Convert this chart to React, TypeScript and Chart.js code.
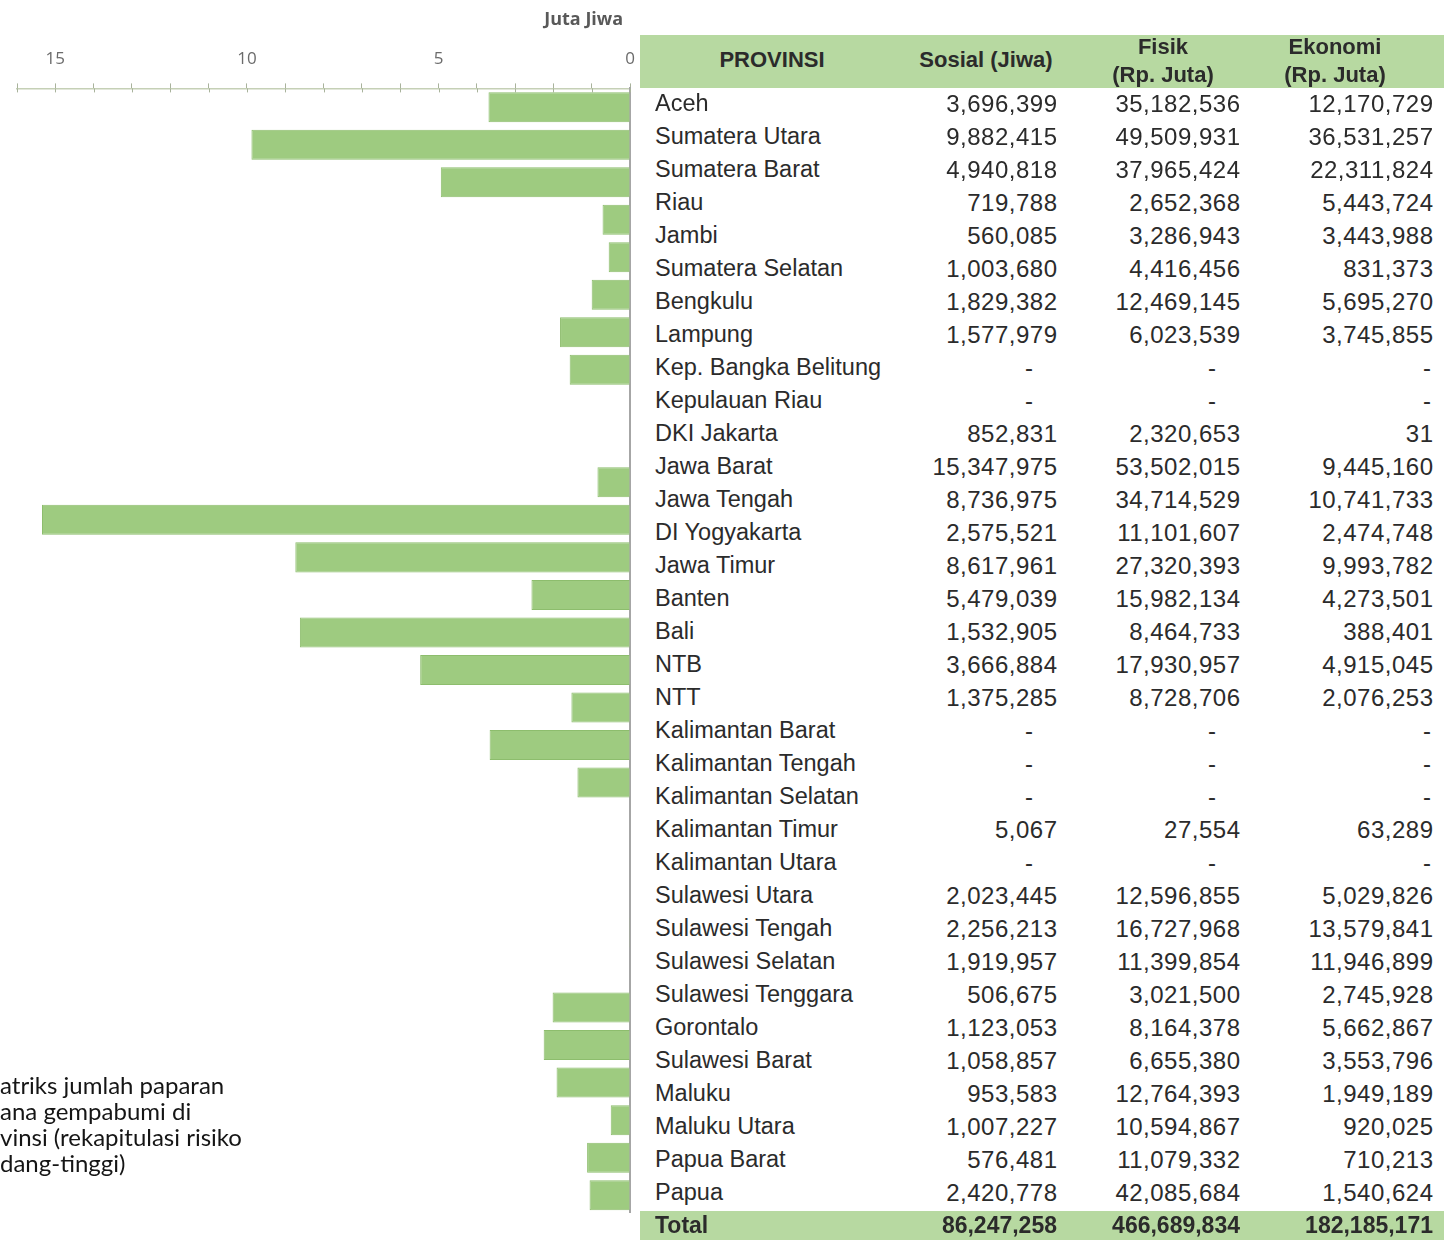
import React, { useEffect, useRef } from "react";
import { Chart, registerables } from "chart.js";

Chart.register(...registerables);

const provinces = [
  "Aceh", "Sumatera Utara", "Sumatera Barat", "Riau", "Jambi", "Sumatera Selatan",
  "Bengkulu", "Lampung", "Kep. Bangka Belitung", "Kepulauan Riau", "DKI Jakarta",
  "Jawa Barat", "Jawa Tengah", "DI Yogyakarta", "Jawa Timur", "Banten", "Bali",
  "NTB", "NTT", "Kalimantan Barat", "Kalimantan Tengah", "Kalimantan Selatan",
  "Kalimantan Timur", "Kalimantan Utara", "Sulawesi Utara", "Sulawesi Tengah",
  "Sulawesi Selatan", "Sulawesi Tenggara", "Gorontalo", "Sulawesi Barat", "Maluku",
  "Maluku Utara", "Papua Barat", "Papua",
];

const sosial: (number | null)[] = [
  3696399, 9882415, 4940818, 719788, 560085, 1003680, 1829382, 1577979, null, null,
  852831, 15347975, 8736975, 2575521, 8617961, 5479039, 1532905, 3666884, 1375285,
  null, null, null, 5067, null, 2023445, 2256213, 1919957, 506675, 1123053, 1058857,
  953583, 1007227, 576481, 2420778,
];

const fisik: (number | null)[] = [
  35182536, 49509931, 37965424, 2652368, 3286943, 4416456, 12469145, 6023539, null, null,
  2320653, 53502015, 34714529, 11101607, 27320393, 15982134, 8464733, 17930957, 8728706,
  null, null, null, 27554, null, 12596855, 16727968, 11399854, 3021500, 8164378, 6655380,
  12764393, 10594867, 11079332, 42085684,
];

const ekonomi: (number | null)[] = [
  12170729, 36531257, 22311824, 5443724, 3443988, 831373, 5695270, 3745855, null, null,
  31, 9445160, 10741733, 2474748, 9993782, 4273501, 388401, 4915045, 2076253,
  null, null, null, 63289, null, 5029826, 13579841, 11946899, 2745928, 5662867, 3553796,
  1949189, 920025, 710213, 1540624,
];

const totals = [86247258, 466689834, 182185171];

const headers = ["PROVINSI", "Sosial (Jiwa)", "Fisik\n(Rp. Juta)", "Ekonomi\n(Rp. Juta)"];
const axisTitle = "Juta Jiwa";
const captionLines = [
  "atriks jumlah paparan",
  "ana gempabumi di",
  "vinsi (rekapitulasi risiko",
  "dang-tinggi)",
];

const fmt = (v: number) => v.toLocaleString("en-US");

const ROW_FONT = "'Liberation Sans', Arial, sans-serif";
const NARROW_FONT = "'Liberation Sans Narrow', 'Liberation Sans', Arial, sans-serif";
const TEXT = "#2b2b2b";
const GREEN = "#b7d9a1";

const axisExtras = {
  id: "axisExtras",
  afterDraw(chart: any) {
    const x = chart.scales.x;
    const { ctx, chartArea } = chart;
    ctx.save();
    ctx.strokeStyle = "#a9b39c";
    ctx.lineWidth = 1;
    for (let v = 0; v <= 16; v++) {
      const px = Math.round(x.getPixelForValue(v)) + 0.5;
      ctx.beginPath();
      ctx.moveTo(px, chartArea.top);
      ctx.lineTo(px, chartArea.top + 4);
      ctx.stroke();
    }
    ctx.fillStyle = "#595959";
    ctx.font = "bold 18px 'Open Sans', sans-serif";
    ctx.textAlign = "right";
    ctx.textBaseline = "middle";
    ctx.fillText(axisTitle, chartArea.right - 7, 20);
    ctx.restore();
  },
};

function BarChart() {
  const ref = useRef<HTMLCanvasElement | null>(null);
  useEffect(() => {
    if (!ref.current) return;
    const chart = new Chart(ref.current, {
      type: "bar",
      data: {
        labels: provinces,
        datasets: [
          {
            data: sosial.map((v) => (v == null ? null : v / 1e6)),
            backgroundColor: "#9ecb80",
            borderColor: "#8dbd6d",
            borderWidth: 1,
            barPercentage: 0.8,
            categoryPercentage: 1,
          },
        ],
      },
      options: {
        indexAxis: "y",
        animation: false,
        responsive: false,
        maintainAspectRatio: false,
        layout: { padding: { left: 17, right: 0, top: 35, bottom: 0 } },
        plugins: { legend: { display: false }, tooltip: { enabled: false } },
        scales: {
          x: {
            type: "linear",
            position: "top",
            reverse: true,
            min: 0,
            max: 16,
            ticks: {
              stepSize: 1,
              autoSkip: false,
              maxRotation: 0,
              padding: 14,
              color: "#6b6b6b",
              font: { family: "'Open Sans', sans-serif", size: 17 },
              callback: (v: any) => (Number(v) % 5 === 0 ? String(v) : ""),
            },
            grid: { drawOnChartArea: false, drawTicks: true, tickLength: 5, color: "#a9b39c" },
            border: { color: "#c5d0b6", width: 1.5 },
          },
          y: {
            type: "category",
            position: "right",
            ticks: { display: false },
            grid: { drawOnChartArea: false, drawTicks: false },
            border: { color: "#a6a6a6", width: 2 },
          },
        },
      },
      plugins: [axisExtras],
    } as any);
    return () => chart.destroy();
  }, []);
  return <canvas ref={ref} width={649} height={1364} style={{ width: 649, height: 1364, display: "block" }} />;
}

const colRight = [1057, 1240, 1433];
const dashPad = [24, 24, 2];
const headerCenters = [772, 986, 1163, 1335];

export default function App() {
  const cols = [sosial, fisik, ekonomi];
  return (
    <div style={{ position: "fixed", left: 0, top: 0, width: 1444, height: 1240, overflow: "hidden", background: "#fff" }}>
      <div style={{ position: "absolute", left: 0, top: 0, width: 649, height: 1213, overflow: "hidden" }}>
        <BarChart />
      </div>
      <div style={{ position: "absolute", left: 640, top: 35, width: 804, height: 53, background: GREEN }} />
      {headers.map((h, i) => {
        const lines = h.split("\n");
        return (
          <div
            key={h}
            style={{
              position: "absolute",
              left: headerCenters[i] - 100,
              width: 200,
              top: lines.length === 1 ? 46 : 33,
              textAlign: "center",
              fontFamily: NARROW_FONT,
              fontWeight: "bold",
              fontSize: 22,
              lineHeight: "28px",
              color: TEXT,
              whiteSpace: "pre",
            }}
          >
            {h}
          </div>
        );
      })}
      {provinces.map((p, i) => {
        const top = 87 + 33 * i;
        return (
          <React.Fragment key={p}>
            <div style={{ position: "absolute", left: 655, top, height: 33, lineHeight: "33px", fontFamily: ROW_FONT, fontSize: 23.5, color: TEXT, whiteSpace: "nowrap" }}>
              {p}
            </div>
            {cols.map((c, j) => {
              const v = c[i];
              return (
                <div
                  key={j}
                  style={{
                    position: "absolute",
                    right: 1444 - colRight[j],
                    top,
                    height: 33,
                    lineHeight: "33px",
                    fontFamily: ROW_FONT,
                    fontSize: 24,
                    letterSpacing: 0.5,
                    marginRight: -0.5,
                    color: TEXT,
                    paddingRight: v == null ? dashPad[j] : 0,
                    whiteSpace: "nowrap",
                  }}
                >
                  {v == null ? "-" : fmt(v)}
                </div>
              );
            })}
          </React.Fragment>
        );
      })}
      <div style={{ position: "absolute", left: 640, top: 1211, width: 804, height: 29, background: GREEN }} />
      <div style={{ position: "absolute", left: 655, top: 1209, height: 33, lineHeight: "33px", fontFamily: NARROW_FONT, fontWeight: "bold", fontSize: 23, color: TEXT }}>
        Total
      </div>
      {totals.map((t, j) => (
        <div
          key={j}
          style={{
            position: "absolute",
            right: 1444 - colRight[j],
            top: 1209,
            height: 33,
            lineHeight: "33px",
            fontFamily: NARROW_FONT,
            fontWeight: "bold",
            fontSize: 23,
            color: TEXT,
            whiteSpace: "nowrap",
          }}
        >
          {fmt(t)}
        </div>
      ))}
      <div style={{ position: "absolute", left: 0, top: 1072, fontFamily: "Lato, sans-serif", fontSize: 24, lineHeight: "26px", color: "#151515" }}>
        {captionLines.map((l) => (
          <div key={l} style={{ whiteSpace: "nowrap" }}>{l}</div>
        ))}
      </div>
    </div>
  );
}
